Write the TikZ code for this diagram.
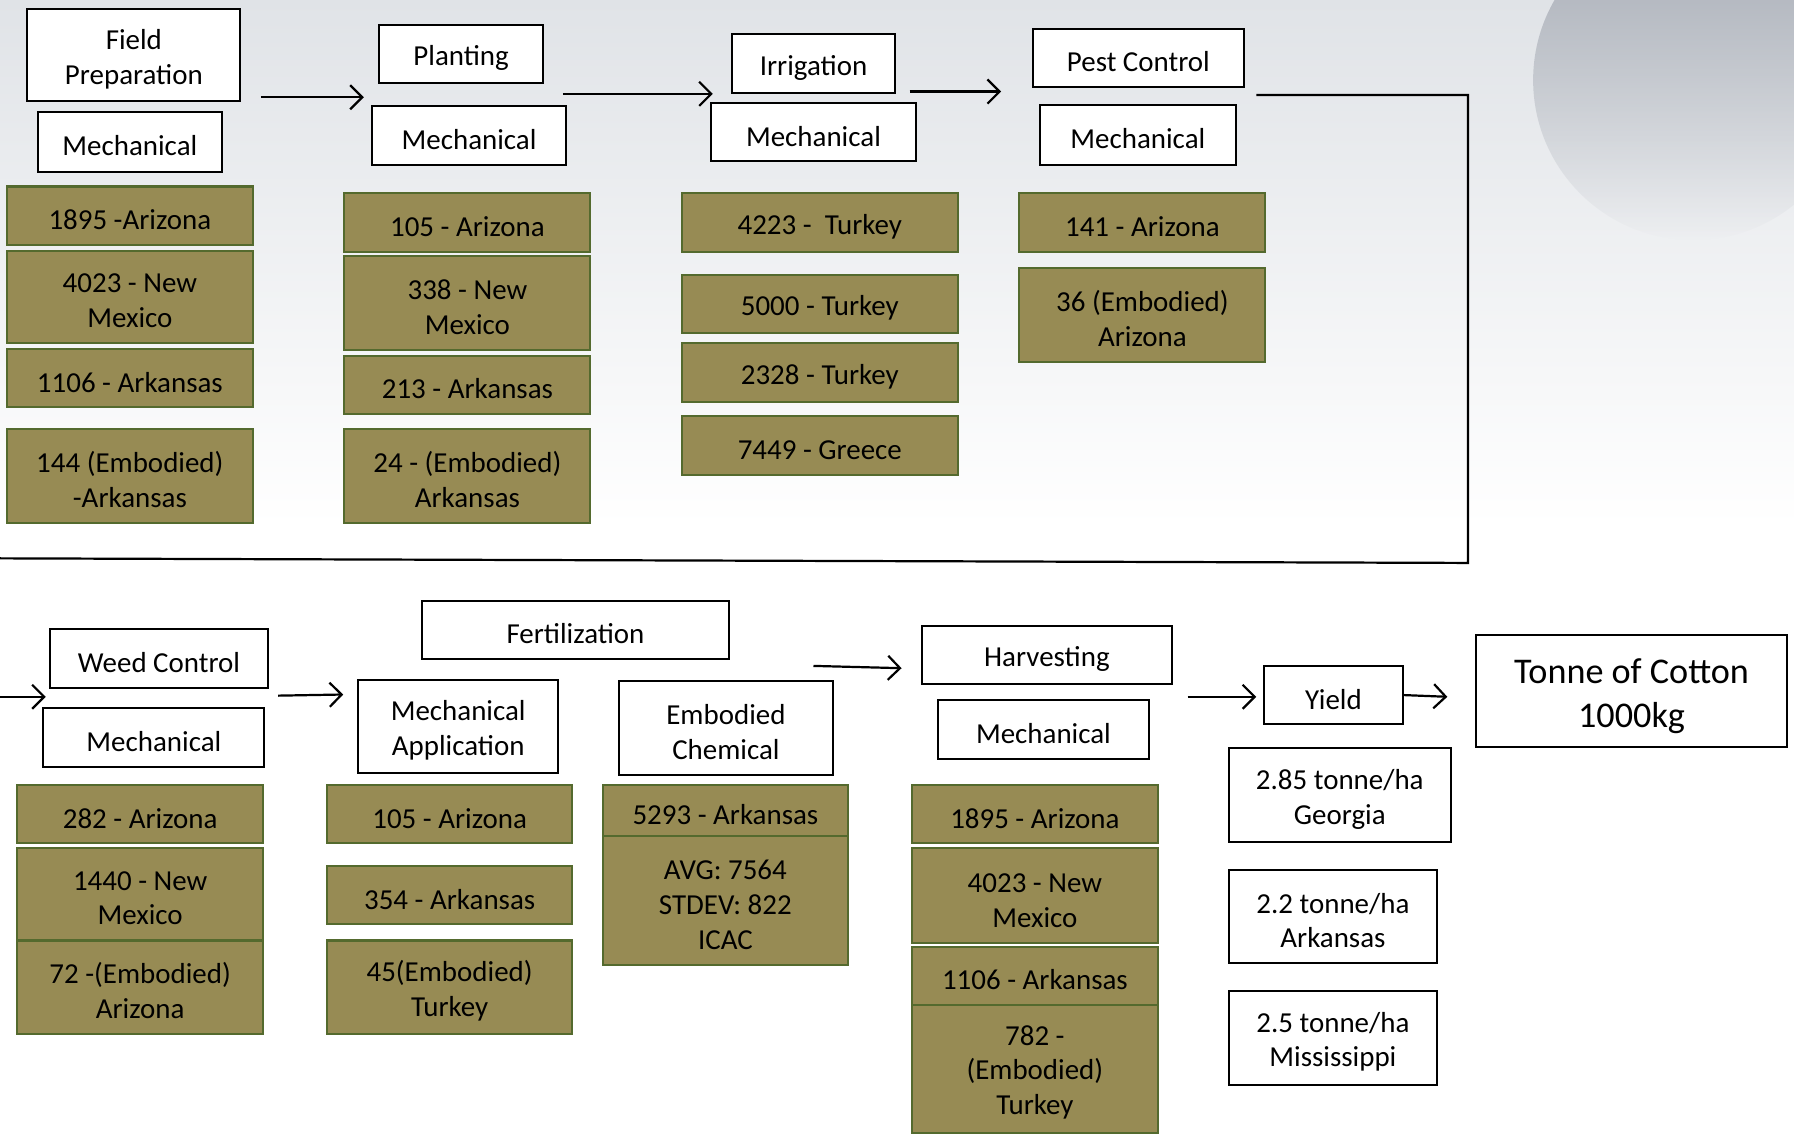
\documentclass[tikz,border=0pt]{standalone}
\usepackage{fontspec}
\setmainfont{Carlito}
\usetikzlibrary{arrows.meta,fadings}
\definecolor{olivefill}{RGB}{151,139,84}
\definecolor{oliveline}{RGB}{84,106,46}
\definecolor{bgtop}{RGB}{224,227,231}
\definecolor{blob}{RGB}{168,173,182}
\tikzfading[name=blobfade, top color=transparent!0, bottom color=transparent!100]
\newlength\liftlen
\tikzset{
  lift/.style={execute at begin node={\pgfmathsetlength\liftlen{#1}\rule{0pt}{\liftlen}}},
  two/.style={lift=31.3pt},
  three/.style={lift=48.6pt},
  stage/.style={draw=black, fill=white, line width=1pt, align=center, inner sep=0pt, lift=14pt},
  val/.style={draw=oliveline, fill=olivefill, line width=1pt, align=center, inner sep=0pt, lift=14pt},
  sz/.style 2 args={minimum width=#1*0.02cm, minimum height=#2*0.02cm},
  flow/.style={line width=1.1pt, -{Straight Barb[length=6pt,width=12pt,line width=1.1pt]}},
}
\begin{document}
\begin{tikzpicture}[x=0.02cm, y=-0.02cm, font=\fontsize{14.4}{17.3}\selectfont]
  \useasboundingbox (0,0) rectangle (1568,995);
  % background
  \fill[white] (0,0) rectangle (1568,995);
  \shade[top color=bgtop, bottom color=white] (0,0) rectangle (1568,460);
  \begin{scope}
    \clip (0,0) rectangle (1568,995);
    \fill[blob, path fading=blobfade] (1480,70) circle (140);
  \end{scope}

  % top row
  \node[stage, two, sz={186}{81}] (fp) at (117,48) {Field\\Preparation};
  \node[stage, sz={161}{52}] (fpm) at (113.5,124) {Mechanical};
  \node[stage, sz={144}{51}] (pl) at (403,47) {Planting};
  \node[stage, sz={170}{51}] (plm) at (410,118.5) {Mechanical};
  \node[stage, sz={142}{51}] (ir) at (711,55.5) {Irrigation};
  \node[stage, sz={180}{51}] (irm) at (711,115.5) {Mechanical};
  \node[stage, sz={184}{51}] (pc) at (995,50.5) {Pest Control};
  \node[stage, sz={171}{52}] (pcm) at (994.5,118) {Mechanical};

  \foreach \y/\h/\t [count=\i] in {188.5/51/1895 -Arizona, 259.5/81/{4023 - New\\Mexico},
      330.5/51/1106 - Arkansas, 416/82/{144 (Embodied)\\-Arkansas}}
    \node[val, sz={215}{\h}, lift={14pt+(\h-51)*0.558pt}] (fpv\i) at (113.5,\y) {\t};
  \foreach \y/\h/\t [count=\i] in {194.5/51/105 - Arizona, 265/82/{338 - New\\Mexico},
      336.5/51/213 - Arkansas, 416/82/{24 - (Embodied)\\Arkansas}}
    \node[val, sz={215}{\h}, lift={14pt+(\h-51)*0.558pt}] (plv\i) at (408.5,\y) {\t};
  \foreach \y/\t [count=\i] in {194.5/4223 -~ Turkey, 265.5/5000 - Turkey,
      325.5/2328 - Turkey, 389.5/7449 - Greece}
    \node[val, sz={241}{51}] (irv\i) at (716.5,\y) {\t};
  \node[val, sz={215}{51}] (pcv1) at (998.5,194.5) {141 - Arizona};
  \node[val, two, sz={215}{82}] (pcv2) at (998.5,275) {36 (Embodied)\\Arizona};

  % bottom row
  \node[stage, sz={190}{51}] (wc) at (139,575.5) {Weed Control};
  \node[stage, sz={193}{51}] (wcm) at (134.5,644.5) {Mechanical};
  \node[stage, sz={268}{51}] (fe) at (503,550.5) {Fertilization};
  \node[stage, two, sz={175}{82}] (ma) at (400.5,635) {Mechanical\\Application};
  \node[stage, two, sz={187}{82}] (ec) at (634.5,636) {Embodied\\Chemical};
  \node[stage, sz={218}{51}] (hv) at (915,572.5) {Harvesting};
  \node[stage, sz={184}{51}] (hvm) at (912,637.5) {Mechanical};
  \node[stage, sz={121}{51}] (yi) at (1165.5,607.5) {Yield};
  \node[stage, sz={272}{98}, lift=39.5pt, font=\fontsize{18}{22}\selectfont] (ton) at (1426,604) {Tonne of Cotton\\1000kg};

  \foreach \y/\h/\t [count=\i] in {711.5/51/282 - Arizona, 781.5/81/{1440 - New\\Mexico},
      863/82/{72 -(Embodied)\\Arizona}}
    \node[val, sz={215}{\h}, lift={14pt+(\h-51)*0.558pt}] (wcv\i) at (122.5,\y) {\t};
  \foreach \y/\h/\t [count=\i] in {711.5/51/105 - Arizona, 782.5/51/354 - Arkansas,
      863/82/{45(Embodied)\\Turkey}}
    \node[val, sz={214}{\h}, lift={14pt+(\h-51)*0.558pt}] (mav\i) at (393,\y) {\t};
  \node[val, sz={214}{45}] (ecv1) at (634,708.5) {5293 - Arkansas};
  \node[val, three, sz={214}{112}] (ecv2) at (634,787) {AVG: 7564\\STDEV: 822\\ICAC};
  \foreach \y/\h/\t [count=\i] in {711.5/51/1895 - Arizona, 782.5/83/{4023 - New\\Mexico},
      853/50/1106 - Arkansas, 934/112/{782 -\\(Embodied)\\Turkey}}
    \node[val, sz={215}{\h}, lift={14pt+(\h-51)*0.558pt}] (hvv\i) at (904.5,\y) {\t};
  \foreach \x/\y/\w/\t [count=\i] in {1171/695/194/{2.85 tonne/ha\\Georgia},
      1165/801/182/{2.2 tonne/ha\\Arkansas}, 1165/907/182/{2.5 tonne/ha\\Mississippi}}
    \node[stage, two, sz={\w}{82}] (yv\i) at (\x,\y) {\t};

  % arrows
  \foreach \n/\p/\q in {1/{228,85}/{318,85}, 2/{492,82}/{623,82}, 3/{795,80}/{875,80},
      4/{0,609}/{40,609}, 5/{243,608}/{300,607}, 6/{711,582}/{788,584}, 7/{1038,609}/{1098,609}} {
    \coordinate (s\n) at (\p);
    \coordinate (e\n) at (\q);
    \draw[flow] (s\n) -- (e\n);
  }
  \coordinate (e8) at (1265,609);
  \draw[flow] (yi.east) -- (e8);
  % return line to second row
  \coordinate (r0) at (1098,83);
  \coordinate (r1) at (0,488);
  \draw[line width=1.1pt] (r0) -- (1283,83) -- (1283,492) -- (r1);
\end{tikzpicture}
\end{document}
